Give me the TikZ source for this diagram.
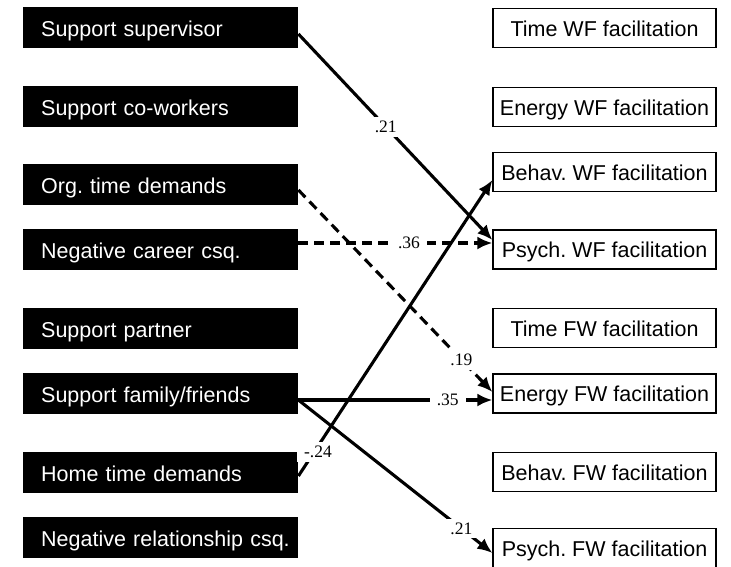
\documentclass[tikz,border=0pt]{standalone}
\usepackage{fontspec}
\setmainfont{Liberation Sans}
\newfontfamily\lblfont{Liberation Serif}
\usetikzlibrary{arrows.meta,calc}
\tikzset{
  src/.style={rectangle,fill=black,text=white,anchor=west,inner xsep=0pt,inner ysep=0pt,
              text width=275pt,align=left,minimum height=41pt,
              text height=20pt,text depth=2pt,
              execute at begin node=\hspace*{18pt},
              font=\fontsize{21.5}{24}\selectfont\frenchspacing},
  tgt/.style={rectangle,draw=black,line width=1.2pt,fill=white,inner xsep=2pt,inner ysep=0pt,
              minimum width=223pt,minimum height=39pt,text height=18pt,text depth=2pt,
              font=\fontsize{21.5}{24}\selectfont\frenchspacing},
  fl/.style={-{Latex[length=15pt,width=13pt]},line width=3.1pt},
  dfl/.style={fl,dash pattern=on 10pt off 6pt},
  lbl/.style={fill=white,inner xsep=7pt,inner ysep=4pt,font=\lblfont\fontsize{17.5}{18}\selectfont},
}
\begin{document}
\begin{tikzpicture}[x=1pt,y=-1pt]
  \useasboundingbox (0,0) rectangle (731,566);
  % -- predictors (left column) --
  \node[src] (supv)  at (23,27.5)  {Support supervisor};
  \node[src] (cowk)  at (23,106.5) {Support co-workers};
  \node[src] (orgtd) at (23,184.5) {Org. time demands};
  \node[src] (ncar)  at (23,249.5) {Negative career csq.};
  \node[src] (part)  at (23,328)   {Support partner};
  \node[src] (famfr) at (23,393)   {Support family/friends};
  \node[src] (homtd) at (23,472)   {Home time demands};
  \node[src] (nrel)  at (23,537.5) {Negative relationship csq.};
  % -- outcomes (right column) --
  \node[tgt] (twf) at (604.5,28)    {Time WF facilitation};
  \node[tgt] (ewf) at (604.5,107)   {Energy WF facilitation};
  \node[tgt] (bwf) at (604.5,172)   {Behav. WF facilitation};
  \node[tgt] (pwf) at (604.5,249.5) {Psych. WF facilitation};
  \node[tgt] (tfw) at (604.5,328)   {Time FW facilitation};
  \node[tgt] (efw) at (604.5,393.5) {Energy FW facilitation};
  \node[tgt] (bfw) at (604.5,472)   {Behav. FW facilitation};
  \node[tgt] (pfw) at (604.5,548)   {Psych. FW facilitation};
  % -- paths --
  \draw[fl] ($(supv.east)+(0,6.5)$) -- node[lbl,pos=0.45] {.21} ($(pwf.west)+(0,-9.5)$);
  \draw[dfl] ($(orgtd.east)+(0,5.5)$) -- node[lbl,pos=0.84] {.19} ($(efw.west)+(0,-1.5)$);
  \draw[dfl] ($(ncar.east)+(0,-6.5)$) -- node[lbl,pos=0.57] {.36} ($(pwf.west)+(0,-6.5)$);
  \draw[fl] ($(famfr.east)+(0,7)$) -- node[lbl,pos=0.77] {.35} ($(efw.west)+(0,6.5)$);
  \draw[fl] ($(famfr.east)+(0,7)$) -- node[lbl,pos=0.84] {.21} ($(pfw.west)+(0,5)$);
  \draw[fl] ($(homtd.east)+(0,4)$) -- node[lbl,pos=0.08,xshift=4pt] {-.24} ($(bwf.west)+(0,8)$);
\end{tikzpicture}
\end{document}
